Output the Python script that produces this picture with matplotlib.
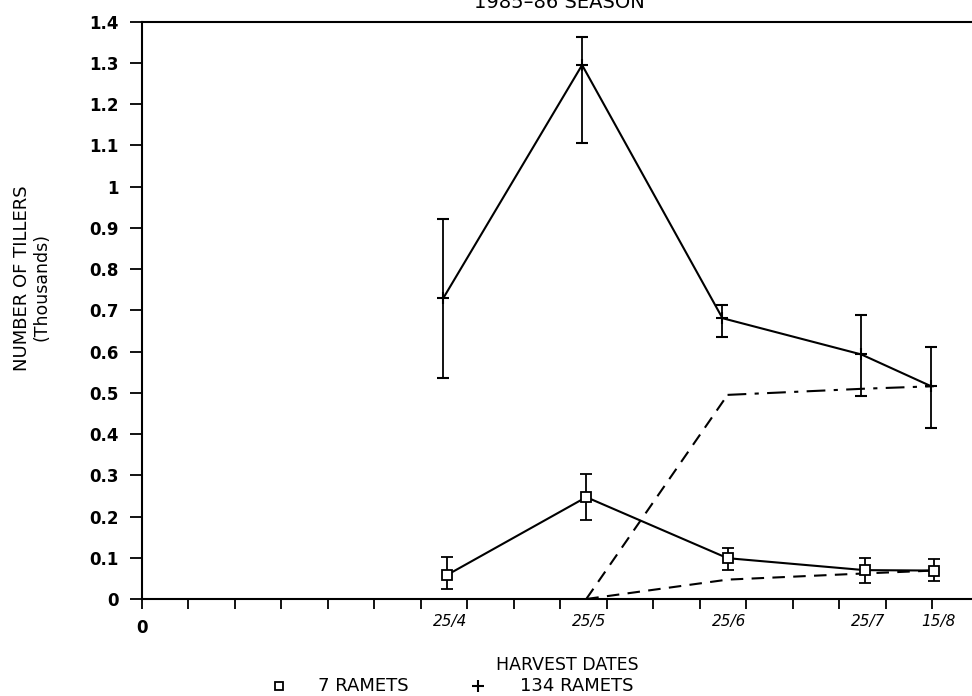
import matplotlib
matplotlib.use("Agg")
import matplotlib.pyplot as plt
from matplotlib.lines import Line2D

# Harvest positions (days from season start) and tiller counts (thousands)
harvest_labels = ["25/4", "25/5", "25/6", "25/7", "15/8"]

days_134 = [64.8, 94.7, 124.9, 154.8, 169.8]
tillers_134 = [0.729, 1.295, 0.681, 0.593, 0.516]
err_lo_134 = [0.535, 1.107, 0.635, 0.493, 0.415]
err_hi_134 = [0.921, 1.363, 0.713, 0.689, 0.612]

days_7 = [65.6, 95.6, 126.0, 155.5, 170.4]
tillers_7 = [0.058, 0.247, 0.099, 0.070, 0.069]
err_lo_7 = [0.024, 0.192, 0.070, 0.040, 0.044]
err_hi_7 = [0.101, 0.302, 0.124, 0.099, 0.096]

# Dashed companion curves, from 25/5 onward
days_dashed = [95.6, 126.0, 155.5, 170.4]
upper_dashed = [0.0, 0.495, 0.510, 0.516]
lower_dashed = [0.0, 0.047, 0.062, 0.069]

y_ticks = [0, 0.1, 0.2, 0.3, 0.4, 0.5, 0.6, 0.7, 0.8, 0.9, 1.0, 1.1, 1.2, 1.3, 1.4]
y_tick_labels = ["0", "0.1", "0.2", "0.3", "0.4", "0.5", "0.6", "0.7", "0.8", "0.9",
                 "1", "1.1", "1.2", "1.3", "1.4"]

plt.rcParams["font.family"] = ["DejaVu Sans"]

fig = plt.figure(figsize=(9.72, 6.96), dpi=100)
ax = fig.add_axes([142 / 972, 97 / 696, 1 - 142 / 972, 577.3 / 696])

lw = 1.5
# 134 ramets: solid line with + markers
yerr_134 = [[t - lo for t, lo in zip(tillers_134, err_lo_134)],
            [hi - t for t, hi in zip(tillers_134, err_hi_134)]]
ax.errorbar(days_134, tillers_134, yerr=yerr_134, color="black", lw=lw,
            elinewidth=1.3, capsize=4, capthick=1.3, marker="+", ms=8, mew=1.5)

# 7 ramets: solid line with open squares
yerr_7 = [[t - lo for t, lo in zip(tillers_7, err_lo_7)],
          [hi - t for t, hi in zip(tillers_7, err_hi_7)]]
ax.errorbar(days_7, tillers_7, yerr=yerr_7, color="black", lw=lw,
            elinewidth=1.3, capsize=4, capthick=1.3, marker="s", ms=7,
            mfc="white", mec="black", mew=1.3, zorder=3)

# Dashed curves
ax.plot(days_dashed[:2], upper_dashed[:2], color="black", lw=lw, dashes=(6, 4))
ax.plot(days_dashed[1:], upper_dashed[1:], color="black", lw=lw, dashes=(9, 4, 2, 4))
ax.plot(days_dashed, lower_dashed, color="black", lw=lw, dashes=(6, 4))

ax.set_ylim(0, 1.4)
ax.set_xlim(0, 178.6)

ax.spines["right"].set_visible(False)
for s in ("left", "top", "bottom"):
    ax.spines[s].set_linewidth(1.5)

ax.set_yticks(y_ticks)
ax.set_yticklabels(y_tick_labels, fontsize=12, fontweight="bold")
ax.tick_params(axis="y", direction="out", length=9, width=1.3, pad=8)

# 10-day tick marks along the bottom, harvest dates labelled underneath
ax.set_xticks(range(0, 171, 10))
ax.set_xticklabels([])
ax.tick_params(axis="x", which="major", direction="out", length=7, width=1.3)
ax.set_xticks([d + 1.5 for d in days_134], minor=True)
ax.set_xticklabels(harvest_labels, minor=True, fontsize=11, fontstyle="italic")
ax.tick_params(axis="x", which="minor", length=0, pad=11)
ax.text(0, -0.05, "0", fontsize=12, fontweight="bold", ha="center", va="center",
        transform=ax.get_xaxis_transform())

fig.text(22 / 972, 1 - 278 / 696, "NUMBER OF TILLERS", rotation=90, fontsize=13,
         ha="center", va="center")
fig.text(42 / 972, 1 - 287 / 696, "(Thousands)", rotation=90, fontsize=12.5,
         ha="center", va="center")

fig.text(559 / 972, 1 - 8 / 696, "1985\u201386 SEASON", fontsize=14, ha="center",
         va="baseline")

fig.text(567 / 972, 1 - 665 / 696, "HARVEST DATES", fontsize=12.5, ha="center",
         va="center")
fig.lines.append(Line2D([279 / 972], [1 - 686 / 696], transform=fig.transFigure,
                        marker="s", ms=6, mfc="white", mec="black", mew=1.3))
fig.text(318 / 972, 1 - 686 / 696, "7 RAMETS", fontsize=13, ha="left", va="center")
fig.lines.append(Line2D([478 / 972], [1 - 686 / 696], transform=fig.transFigure,
                        marker="+", ms=8, mec="black", mew=1.5))
fig.text(520 / 972, 1 - 686 / 696, "134 RAMETS", fontsize=13, ha="left", va="center")

fig.savefig("out.png", dpi=100)
